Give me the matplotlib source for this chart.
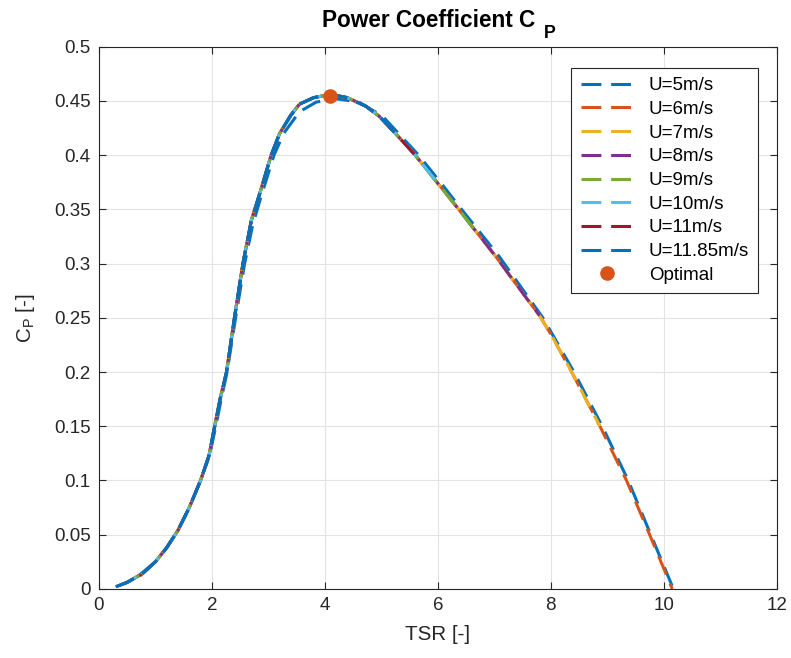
import matplotlib
matplotlib.use("Agg")
import matplotlib.pyplot as plt
from matplotlib.ticker import FormatStrFormatter
import numpy as np

plt.rcParams['font.family'] = ['Liberation Sans', 'DejaVu Sans']
plt.rcParams['mathtext.fontset'] = 'custom'
plt.rcParams['mathtext.rm'] = 'Liberation Sans'
plt.rcParams['mathtext.bf'] = 'Liberation Sans:bold'

# Cp curve (shared by most wind speeds)
tsr = [0.30, 0.35, 0.40, 0.45, 0.50, 0.60, 0.70, 0.75, 1.00, 1.20, 1.40, 1.60,
       1.80, 1.95, 2.05, 2.15, 2.26, 2.40, 2.55, 2.70, 2.85, 3.05, 3.20, 3.40,
       3.55, 3.80, 4.10, 4.40, 4.73, 4.96, 5.25, 5.60, 6.00, 6.37, 6.70, 7.02,
       7.40, 7.80, 8.00, 8.37, 8.87, 9.34, 9.75, 9.95, 10.15]
cp = [0.002, 0.003, 0.004, 0.005, 0.006, 0.009, 0.012, 0.013, 0.025, 0.038, 0.054, 0.075,
      0.100, 0.123, 0.150, 0.176, 0.200, 0.250, 0.300, 0.340, 0.365, 0.400, 0.420, 0.437,
      0.447, 0.453, 0.456, 0.453, 0.445, 0.436, 0.420, 0.400, 0.374, 0.350, 0.328, 0.307,
      0.280, 0.252, 0.235, 0.200, 0.150, 0.100, 0.050, 0.025, 0.000]

# U=5 sits slightly apart from the others
tsr_5 = [0.70, 1.00, 1.20, 1.40, 1.60, 1.80, 1.96, 2.07, 2.17, 2.27, 2.42, 2.58,
         2.72, 2.86, 3.10, 3.27, 3.55, 3.85, 4.20, 4.60, 5.02, 5.66, 6.06, 6.42,
         7.08, 7.86, 8.41, 8.91, 9.37, 9.77, 10.17]
cp_5 = [0.012, 0.025, 0.038, 0.054, 0.075, 0.100, 0.123, 0.150, 0.176, 0.200, 0.250, 0.300,
        0.335, 0.360, 0.400, 0.420, 0.440, 0.449, 0.452, 0.449, 0.436, 0.400, 0.374, 0.350,
        0.307, 0.250, 0.200, 0.150, 0.100, 0.050, 0.000]

labels = ['U=5m/s', 'U=6m/s', 'U=7m/s', 'U=8m/s', 'U=9m/s', 'U=10m/s', 'U=11m/s', 'U=11.85m/s']
tsr_start = [0.70, 0.60, 0.50, 0.45, 0.40, 0.35, 0.30, 0.30]
tsr_end = [10.17, 10.15, 9.0, 7.9, 7.0, 6.3, 5.8, 5.3]

tsr_opt = 4.1
cp_opt = 0.455

colors = ['#0072BD', '#D95319', '#EDB120', '#7E2F8E', '#77AC30', '#4DBEEE', '#A2142F', '#0072BD']
dark = '#262626'

fig = plt.figure(figsize=(7.91, 6.58), dpi=100)
ax = fig.add_axes([0.125, 0.105, 0.857, 0.824])

x_all = np.array(tsr)
y_all = np.array(cp)
for i, lab in enumerate(labels):
    if i == 0:
        x = np.array(tsr_5)
        y = np.array(cp_5)
    else:
        x = x_all
        y = y_all
    m = (x >= tsr_start[i] - 1e-9) & (x <= tsr_end[i] + 1e-9)
    ax.plot(x[m], y[m], color=colors[i], lw=2.2, dashes=(6.5, 3.2), label=lab)

ax.plot([tsr_opt], [cp_opt], 'o', color='#D95319', markersize=9.5, label='Optimal')

ax.set_xlim(0, 12)
ax.set_ylim(0, 0.5)
ax.set_xticks(np.arange(0, 13, 2))
ax.set_yticks(np.arange(0, 0.501, 0.05))
ax.yaxis.set_major_formatter(FormatStrFormatter('%g'))
ax.grid(True, color='#e3e3e3', lw=0.8)
ax.set_axisbelow(True)
ax.tick_params(direction='in', top=True, right=True, length=5, width=0.8,
               labelsize=13.5, colors=dark, pad=6)
for s in ax.spines.values():
    s.set_color(dark)
    s.set_linewidth(0.8)

ax.set_xlabel('TSR [-]', fontsize=14.8, color=dark, labelpad=8)
ax.set_ylabel(r'C$_{\mathrm{P}}$ [-]', fontsize=14.8, color=dark, labelpad=12)

# title with a MATLAB-style (large, low) subscript
t = ax.annotate('Power Coefficient C', xy=(0.5, 1), xycoords='axes fraction',
                xytext=(-6.5, 14.4), textcoords='offset points', ha='center',
                va='baseline', fontsize=16.3, fontweight='bold', color='black')
ax.annotate('P', xy=(1, 0), xycoords=t, xytext=(6, -7.2), textcoords='offset points',
            ha='left', va='bottom', fontsize=12.8, fontweight='bold', color='black')

leg = ax.legend(loc='upper right', bbox_to_anchor=(0.973, 0.961), borderaxespad=0,
                fontsize=13.5, fancybox=False, framealpha=1, edgecolor=dark,
                handlelength=2.83, handletextpad=0.8, labelspacing=0.35,
                borderpad=0.5, numpoints=1)
leg.get_frame().set_linewidth(0.8)

fig.savefig('out.png', dpi=100)
